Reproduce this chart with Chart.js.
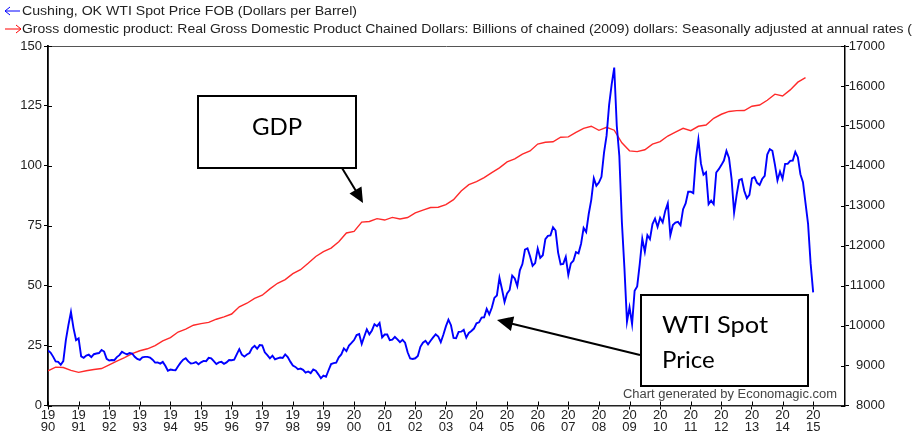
<!DOCTYPE html>
<html><head><meta charset="utf-8">
<script src="https://cdn.jsdelivr.net/npm/chart.js@4"></script>
<style>
html,body{margin:0;padding:0;background:#fff;}
#wrap{position:relative;width:912px;height:435px;overflow:hidden;background:#fff;}
canvas{position:absolute;left:0;top:0;}
svg{position:absolute;left:0;top:0;}
</style></head><body>
<div id="wrap"><canvas id="c" width="912" height="435"></canvas>
<svg id="ov" width="912" height="435" xmlns="http://www.w3.org/2000/svg">
  <g font-family="'Liberation Sans', Arial, sans-serif" font-size="12" fill="#222">
    <line x1="5" y1="11" x2="20" y2="11" stroke="#0000ff" stroke-width="1"/>
    <polyline points="10,7 5,11 10,15" fill="none" stroke="#0000ff" stroke-width="1"/>
    <text id="lg1" x="22" y="15" textLength="335" lengthAdjust="spacingAndGlyphs">Cushing, OK WTI Spot Price FOB (Dollars per Barrel)</text>
    <line x1="5" y1="29" x2="21" y2="29" stroke="#ff0000" stroke-width="1"/>
    <polyline points="16,25 21,29 16,33" fill="none" stroke="#ff0000" stroke-width="1"/>
    <text id="lg2" x="22" y="33" textLength="890" lengthAdjust="spacingAndGlyphs">Gross domestic product: Real Gross Domestic Product Chained Dollars: Billions of chained (2009) dollars: Seasonally adjusted at annual rates (</text>
    <text x="623" y="398" fill="#444" textLength="214" lengthAdjust="spacingAndGlyphs">Chart generated by Economagic.com</text>
  </g>
  <rect x="198" y="96" width="158" height="72" fill="#fff" stroke="#000" stroke-width="2"/>
  <text x="277" y="135" text-anchor="middle" font-family="Lato, 'Open Sans', sans-serif" font-size="24" fill="#000">GDP</text>
  <line x1="342" y1="168" x2="356" y2="191" stroke="#000" stroke-width="2"/>
  <polygon points="363,203 349.5,193.5 361.5,186.5" fill="#000"/>
  <rect x="641" y="295" width="167" height="91" fill="#fff" stroke="#000" stroke-width="2"/>
  <text x="662" y="333" font-family="Lato, 'Open Sans', sans-serif" font-size="24" fill="#000" textLength="106" lengthAdjust="spacingAndGlyphs">WTI Spot</text>
  <text x="662" y="368" font-family="Lato, 'Open Sans', sans-serif" font-size="24" fill="#000">Price</text>
  <line x1="640" y1="355" x2="511" y2="323.5" stroke="#000" stroke-width="2"/>
  <polygon points="497,320 514.2,316.5 510.9,331" fill="#000"/>
</svg></div>
<script>
// ---- data ----
const wtiStartYear = 1990; // monthly, Dollars per Barrel
const wti = [
 22.9,22.1,20.4,18.4,18.2,17.0,18.5,27.3,33.5,39.0,32.3,27.3,
 28.0,20.5,19.9,20.8,21.2,20.2,21.4,21.7,21.9,23.2,22.5,19.5,
 18.8,19.0,18.9,20.2,21.0,22.4,21.8,21.3,21.9,21.7,20.3,19.4,
 19.0,20.1,20.3,20.3,20.0,19.1,17.9,18.0,17.5,18.2,16.6,14.5,
 15.0,14.8,14.7,16.4,17.9,19.1,19.7,18.4,17.5,17.7,18.1,17.2,
 18.0,18.6,18.5,19.9,19.7,18.5,17.3,18.0,18.2,17.4,18.0,19.0,
 18.9,19.1,21.3,23.5,21.2,20.4,21.3,21.9,24.0,24.9,23.7,25.2,
 25.1,22.2,21.0,19.7,20.8,19.3,19.7,20.0,19.8,21.3,20.2,18.3,
 16.7,16.1,15.1,15.4,14.9,13.7,14.2,13.5,15.0,14.5,13.0,11.4,
 12.5,12.0,14.7,17.3,17.7,17.9,20.1,21.3,23.8,22.7,25.0,26.1,
 27.3,29.4,29.8,25.7,28.8,31.8,29.7,31.3,33.9,33.1,34.4,28.4,
 29.6,29.6,27.3,27.5,28.6,27.6,26.4,27.4,26.2,22.2,19.6,19.4,
 19.7,20.7,24.5,26.2,27.0,25.5,27.0,28.4,29.7,28.8,26.4,29.5,
 33.0,35.8,33.5,28.2,28.1,30.7,30.8,31.6,28.3,30.3,31.1,32.1,
 34.3,34.7,36.7,36.8,40.3,38.0,40.8,44.9,45.9,53.3,48.5,43.2,
 46.8,48.2,54.2,53.0,49.8,56.4,59.0,65.0,65.6,62.3,58.3,59.4,
 65.5,61.6,62.7,69.4,70.8,71.0,74.4,73.0,63.8,58.9,59.1,62.0,
 54.5,59.3,60.4,64.0,63.5,67.5,74.1,72.4,79.9,85.8,94.8,91.7,
 93.0,95.4,105.5,112.6,125.4,134.0,141.0,116.7,104.1,76.6,57.3,35.0,
 41.0,34.0,47.9,49.7,59.0,69.6,64.2,71.1,69.4,75.7,78.0,74.5,
 78.3,76.4,81.2,84.3,71.0,75.3,76.3,76.6,75.2,81.9,84.3,89.2,
 89.2,88.6,102.9,111.0,100.9,96.3,97.3,84.0,85.5,84.0,97.2,98.6,
 100.3,102.2,106.2,103.3,94.7,80.5,87.9,94.1,94.5,89.5,86.5,87.9,
 94.8,95.3,92.9,92.0,94.5,95.8,104.7,107.0,106.3,100.5,93.9,97.6,
 94.6,100.8,100.8,102.1,102.2,105.8,103.6,96.5,93.2,84.4,75.8,59.3,
 47.2
];
const gdpStartYear = 1990; // quarterly, billions of chained 2009 dollars, SAAR
const gdp = [
 8870,8960,8950,8880,
 8830,8870,8900,8925,
 9020,9110,9200,9300,
 9370,9420,9500,9620,
 9700,9840,9910,10010,
 10050,10080,10160,10220,
 10290,10470,10560,10680,
 10760,10920,11060,11150,
 11300,11400,11560,11730,
 11850,11940,12100,12320,
 12359,12592,12608,12679,
 12643,12710,12670,12705,
 12822,12893,12956,12964,
 13031,13152,13372,13529,
 13607,13706,13831,13950,
 14099,14173,14292,14373,
 14546,14590,14603,14717,
 14726,14839,14939,14992,
 14890,14963,14892,14577,
 14375,14356,14403,14542,
 14605,14746,14846,14939,
 14881,14990,15021,15190,
 15291,15362,15381,15384,
 15492,15522,15641,15794,
 15747,15901,16095,16206
];
const yearTicks = [];
for (let y = 1990; y <= 2015; y++) yearTicks.push(y);
const leftTicks = [0,25,50,75,100,125,150];
const rightTicks = [8000,9000,10000,11000,12000,13000,14000,15000,16000,17000];

const wtiPts = wti.map((v,i)=>({x: wtiStartYear + i/12, y: v}));
const gdpPts = gdp.map((v,i)=>({x: gdpStartYear + i/4, y: v}));

const tickFont = {family:"'Liberation Sans', Arial, sans-serif", size:13};

const axisDecor = {
  id:'axisDecor',
  afterDraw(chart){
    const {ctx, chartArea:a, scales} = chart;
    ctx.save();
    ctx.strokeStyle = '#555'; ctx.lineWidth = 1;
    ctx.beginPath(); ctx.moveTo(a.left, a.top+0.5); ctx.lineTo(a.right, a.top+0.5); ctx.stroke();
    ctx.strokeStyle = '#000'; ctx.lineWidth = 1;
    ctx.beginPath();
    scales.y.ticks.forEach(t=>{const p=Math.round(scales.y.getPixelForValue(t.value))+0.5; ctx.moveTo(a.left,p); ctx.lineTo(a.left+4,p);});
    scales.y1.ticks.forEach(t=>{const p=Math.round(scales.y1.getPixelForValue(t.value))+0.5; ctx.moveTo(a.right,p); ctx.lineTo(a.right-4,p);});
    scales.x.ticks.forEach(t=>{const p=Math.round(scales.x.getPixelForValue(t.value))+0.5; ctx.moveTo(p,a.bottom); ctx.lineTo(p,a.bottom-4);});
    ctx.stroke();
    ctx.restore();
  }
};

new Chart(document.getElementById('c'), {
  type:'line',
  data:{datasets:[
    {label:'Cushing, OK WTI Spot Price FOB (Dollars per Barrel)', data:wtiPts, yAxisID:'y',
     borderColor:'#0000ff', borderWidth:1.9, pointRadius:0, tension:0, fill:false},
    {label:'Real GDP', data:gdpPts, yAxisID:'y1',
     borderColor:'#ff2a2a', borderWidth:1.4, pointRadius:0, tension:0, fill:false}
  ]},
  options:{
    responsive:false, animation:false, devicePixelRatio:1,
    layout:{padding:{top:46,left:0,right:27,bottom:0}},
    plugins:{legend:{display:false}, tooltip:{enabled:false}},
    scales:{
      x:{type:'linear', min:1990, max:2016.04, position:'bottom',
        afterBuildTicks:s=>{s.ticks = yearTicks.map(v=>({value:v}));},
        afterFit:s=>{s.height = 29.5;},
        ticks:{autoSkip:false, maxRotation:0, minRotation:0, padding:0, color:'#222',
          font:Object.assign({lineHeight:0.9}, tickFont),
          callback:v=>{const s=String(v); return [s.slice(0,2), s.slice(2)];}},
        grid:{drawOnChartArea:false, drawTicks:true, tickLength:4, color:'#000'},
        border:{color:'#222', width:1.5}},
      y:{type:'linear', min:0, max:150, position:'left',
        afterBuildTicks:s=>{s.ticks = leftTicks.map(v=>({value:v}));},
        afterFit:s=>{s.width = 48;},
        ticks:{padding:2, color:'#222', font:tickFont, callback:v=>String(v)},
        grid:{drawOnChartArea:false, drawTicks:true, tickLength:4, color:'#000'},
        border:{color:'#000', width:1.8}},
      y1:{type:'linear', min:8000, max:17000, position:'right',
        afterBuildTicks:s=>{s.ticks = rightTicks.map(v=>({value:v}));},
        afterFit:s=>{s.width = 40;},
        ticks:{padding:1, crossAlign:'far', color:'#222', font:tickFont, callback:v=>String(v)},
        grid:{drawOnChartArea:false, drawTicks:true, tickLength:4, color:'#000'},
        border:{color:'#000', width:1.5}}
    }
  },
  plugins:[axisDecor]
});
</script>
</body></html>
